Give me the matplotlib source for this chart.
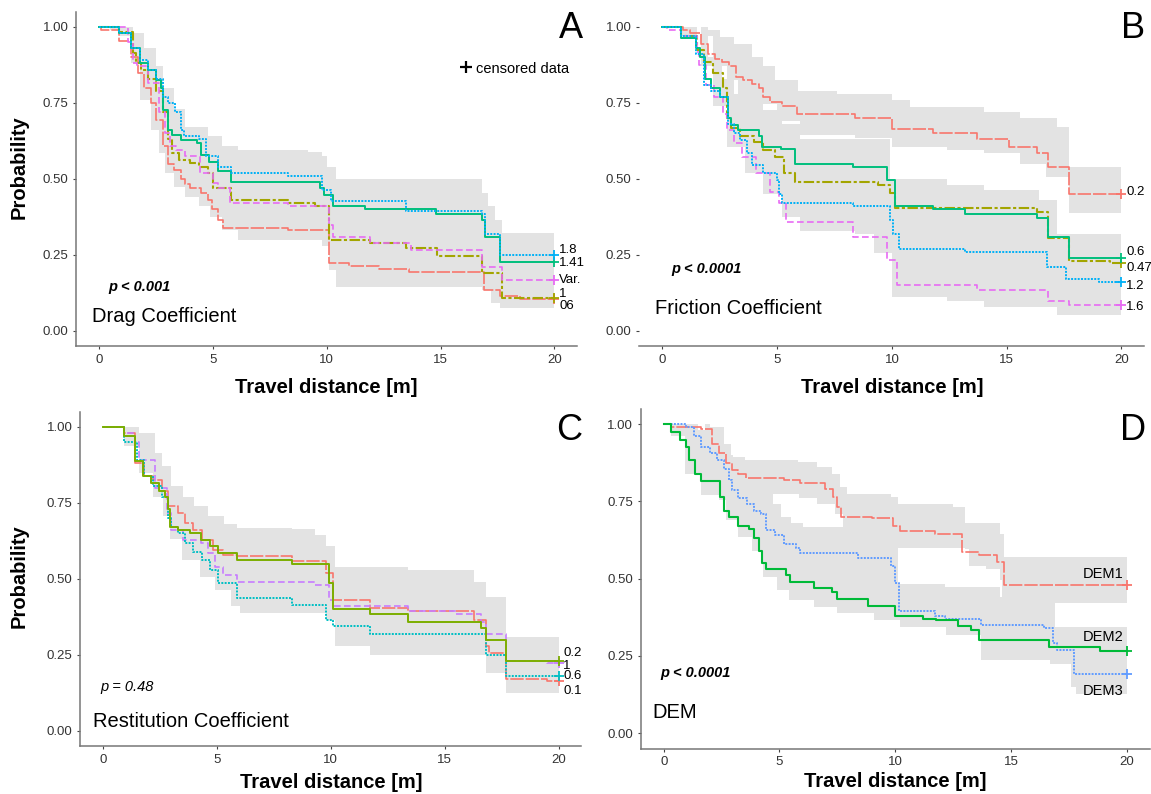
import matplotlib
matplotlib.use('Agg')
import matplotlib.pyplot as plt

plt.rcParams['font.family'] = ['Liberation Sans', 'DejaVu Sans']

# ---- Panel A : drag coefficient ----
a_06_x = [0, 0.1, 0.9, 1.4, 1.7, 2.0, 2.3, 2.5, 2.8, 3.05, 3.3, 3.6, 3.8, 4.0, 4.5, 4.8, 4.95, 5.25, 5.45, 8.3, 10.1, 11.0, 12.3, 13.6, 16.9, 17.6, 18.5, 20]
a_06_y = [1.0, 0.99, 0.955, 0.90, 0.85, 0.80, 0.75, 0.695, 0.61, 0.55, 0.53, 0.50, 0.485, 0.47, 0.455, 0.43, 0.40, 0.366, 0.338, 0.332, 0.225, 0.215, 0.205, 0.195, 0.135, 0.115, 0.105, 0.105]
a_1_x = [0, 0.9, 1.5, 1.65, 1.84, 2.16, 2.5, 2.8, 3.05, 3.2, 3.5, 4.0, 4.4, 4.8, 5.0, 5.8, 8.3, 9.5, 10.1, 11.9, 13.5, 14.85, 16.8, 17.7, 20]
a_1_y = [1.0, 0.985, 0.915, 0.88, 0.86, 0.83, 0.79, 0.72, 0.63, 0.585, 0.563, 0.552, 0.54, 0.52, 0.47, 0.43, 0.42, 0.41, 0.30, 0.29, 0.272, 0.245, 0.19, 0.11, 0.11]
a_var_x = [0, 1.3, 1.5, 1.67, 2.16, 2.65, 2.9, 3.14, 3.4, 3.8, 4.44, 5.0, 5.25, 5.75, 8.3, 10.1, 10.3, 11.9, 13.7, 16.8, 17.7, 20]
a_var_y = [1.0, 0.95, 0.88, 0.87, 0.816, 0.72, 0.65, 0.607, 0.596, 0.574, 0.52, 0.486, 0.47, 0.42, 0.41, 0.35, 0.31, 0.29, 0.265, 0.21, 0.168, 0.168]
a_141_x = [0, 0.9, 1.4, 1.8, 2.16, 2.5, 2.73, 2.8, 3.05, 3.2, 3.6, 4.3, 4.5, 4.85, 5.25, 5.8, 9.7, 9.9, 10.3, 11.7, 14.8, 16.8, 16.95, 17.6, 20]
a_141_y = [1.0, 0.98, 0.93, 0.88, 0.86, 0.827, 0.80, 0.728, 0.66, 0.645, 0.627, 0.617, 0.58, 0.557, 0.525, 0.49, 0.47, 0.448, 0.41, 0.40, 0.385, 0.365, 0.31, 0.228, 0.228]
a_18_x = [0, 0.9, 1.4, 1.8, 2.16, 2.5, 2.8, 3.05, 3.35, 3.6, 3.75, 4.4, 4.7, 5.25, 5.8, 8.3, 9.8, 10.2, 13.5, 16.8, 16.95, 17.6, 20]
a_18_y = [1.0, 0.98, 0.93, 0.89, 0.86, 0.83, 0.77, 0.75, 0.72, 0.66, 0.64, 0.63, 0.574, 0.54, 0.52, 0.51, 0.464, 0.426, 0.393, 0.385, 0.32, 0.25, 0.25]
a_band_up_x = [0, 1.3, 1.5, 2.0, 2.5, 2.8, 3.3, 3.8, 4.8, 5.4, 6.1, 9.2, 9.8, 10.0, 10.4, 16.5, 16.8, 17.1, 17.4, 17.7, 20]
a_band_up_y = [1.0, 1.0, 0.98, 0.93, 0.87, 0.80, 0.73, 0.67, 0.64, 0.607, 0.596, 0.59, 0.574, 0.54, 0.50, 0.50, 0.453, 0.41, 0.366, 0.322, 0.322]
a_band_lo_x = [0, 0.5, 0.9, 1.4, 1.8, 2.3, 2.65, 2.9, 3.3, 3.8, 4.4, 4.9, 5.4, 6.1, 9.8, 10.1, 10.4, 13.5, 16.8, 17.2, 17.6, 20]
a_band_lo_y = [1.0, 0.99, 0.97, 0.88, 0.76, 0.66, 0.585, 0.52, 0.475, 0.442, 0.41, 0.376, 0.333, 0.30, 0.278, 0.20, 0.146, 0.146, 0.135, 0.091, 0.075, 0.075]

# ---- Panel B : friction coefficient ----
b_02_x = [0, 0.9, 1.2, 1.7, 2.0, 2.3, 2.6, 2.9, 3.2, 3.5, 3.9, 4.2, 4.4, 4.7, 5.2, 5.86, 8.4, 10.0, 11.8, 13.7, 15.1, 16.3, 16.8, 17.7, 20]
b_02_y = [1.0, 0.99, 0.98, 0.945, 0.91, 0.896, 0.885, 0.87, 0.836, 0.826, 0.814, 0.80, 0.77, 0.753, 0.74, 0.715, 0.70, 0.665, 0.65, 0.63, 0.605, 0.585, 0.54, 0.452, 0.452]
b_06_x = [0, 0.8, 1.45, 1.65, 1.85, 2.1, 2.5, 2.85, 3.0, 3.3, 4.2, 4.35, 5.15, 5.8, 8.3, 9.8, 10.15, 11.8, 13.2, 16.3, 16.8, 17.7, 20]
b_06_y = [1.0, 0.965, 0.93, 0.90, 0.83, 0.80, 0.77, 0.70, 0.677, 0.66, 0.64, 0.605, 0.60, 0.55, 0.54, 0.496, 0.41, 0.40, 0.385, 0.37, 0.31, 0.24, 0.24]
b_047_x = [0, 0.8, 1.5, 1.8, 2.2, 2.65, 2.8, 3.0, 3.4, 4.0, 4.4, 4.9, 5.3, 5.8, 9.4, 9.9, 10.15, 16.3, 16.8, 17.7, 19.5, 20]
b_047_y = [1.0, 0.97, 0.923, 0.885, 0.847, 0.80, 0.70, 0.666, 0.64, 0.62, 0.595, 0.573, 0.518, 0.49, 0.48, 0.455, 0.405, 0.39, 0.305, 0.23, 0.225, 0.225]
b_12_x = [0, 0.8, 1.45, 1.8, 2.1, 2.5, 2.85, 3.1, 3.4, 3.7, 3.9, 4.4, 5.0, 5.1, 5.2, 8.3, 9.9, 10.05, 10.3, 13.2, 16.75, 17.6, 19.0, 20]
b_12_y = [1.0, 0.97, 0.91, 0.81, 0.79, 0.77, 0.68, 0.65, 0.627, 0.585, 0.545, 0.518, 0.496, 0.452, 0.42, 0.41, 0.365, 0.32, 0.27, 0.26, 0.21, 0.17, 0.16, 0.16]
b_16_x = [0, 0.2, 0.8, 1.5, 1.6, 1.9, 2.25, 2.65, 2.8, 3.1, 3.45, 4.1, 4.7, 5.1, 5.4, 8.3, 9.8, 10.2, 13.7, 16.8, 17.7, 20]
b_16_y = [1.0, 0.99, 0.97, 0.918, 0.875, 0.81, 0.77, 0.715, 0.66, 0.617, 0.573, 0.518, 0.458, 0.42, 0.36, 0.31, 0.233, 0.15, 0.135, 0.10, 0.085, 0.085]
b_band1_up_x = [0, 2.0, 2.5, 3.1, 3.9, 4.4, 4.9, 5.9, 7.6, 10.0, 10.8, 14.0, 15.6, 17.2, 17.7, 20]
b_band1_up_y = [1.0, 0.99, 0.967, 0.945, 0.90, 0.87, 0.825, 0.79, 0.78, 0.76, 0.737, 0.72, 0.70, 0.67, 0.54, 0.54]
b_band1_lo_x = [0, 1.7, 2.2, 2.8, 3.3, 3.9, 5.0, 6.0, 8.4, 10.0, 12.4, 14.0, 15.6, 16.7, 17.7, 20]
b_band1_lo_y = [1.0, 0.97, 0.87, 0.825, 0.78, 0.745, 0.69, 0.645, 0.635, 0.605, 0.595, 0.584, 0.55, 0.507, 0.387, 0.387]
b_band2_up_x = [0, 1.5, 2.0, 2.6, 3.1, 4.4, 5.2, 6.0, 9.9, 12.4, 14.0, 16.4, 17.2, 20]
b_band2_up_y = [1.0, 0.97, 0.90, 0.83, 0.78, 0.726, 0.68, 0.63, 0.50, 0.48, 0.463, 0.43, 0.32, 0.32]
b_band2_lo_x = [0, 0.8, 1.7, 2.2, 2.8, 3.6, 4.4, 5.2, 6.0, 8.4, 9.2, 10.0, 12.4, 14.0, 17.2, 20]
b_band2_lo_y = [1.0, 0.97, 0.87, 0.74, 0.605, 0.518, 0.452, 0.376, 0.33, 0.32, 0.255, 0.113, 0.10, 0.08, 0.053, 0.053]

# ---- Panel C : restitution coefficient ----
c_02_x = [0, 0.93, 1.4, 1.75, 2.1, 2.45, 2.7, 2.85, 2.95, 3.3, 3.8, 4.3, 4.7, 5.07, 5.9, 8.3, 9.9, 10.1, 11.7, 13.4, 16.6, 16.8, 17.7, 20]
c_02_y = [1.0, 0.97, 0.887, 0.838, 0.816, 0.79, 0.77, 0.73, 0.67, 0.66, 0.65, 0.627, 0.607, 0.585, 0.563, 0.55, 0.486, 0.40, 0.385, 0.36, 0.34, 0.30, 0.23, 0.23]
c_01_x = [0, 0.93, 1.4, 1.8, 2.2, 2.6, 2.85, 3.3, 3.6, 3.95, 4.35, 4.85, 5.25, 5.9, 8.3, 9.8, 10.1, 11.7, 13.4, 16.3, 16.8, 16.95, 17.7, 19.5, 20]
c_01_y = [1.0, 0.98, 0.88, 0.838, 0.827, 0.79, 0.74, 0.717, 0.684, 0.662, 0.627, 0.596, 0.58, 0.576, 0.56, 0.52, 0.43, 0.405, 0.395, 0.365, 0.28, 0.255, 0.17, 0.165, 0.165]
c_1_x = [0, 0.93, 1.4, 1.6, 2.3, 2.8, 3.0, 3.5, 4.3, 4.6, 4.9, 5.25, 5.9, 9.3, 9.9, 10.1, 13.4, 15.5, 16.6, 16.8, 17.7, 19.5, 20]
c_1_y = [1.0, 0.98, 0.95, 0.89, 0.80, 0.717, 0.66, 0.627, 0.617, 0.585, 0.54, 0.514, 0.49, 0.48, 0.43, 0.41, 0.395, 0.385, 0.36, 0.32, 0.23, 0.225, 0.225]
c_06_x = [0, 0.93, 1.5, 1.8, 2.2, 2.6, 2.85, 3.0, 3.3, 3.6, 3.95, 4.35, 4.7, 5.07, 5.9, 8.3, 9.8, 10.1, 11.7, 16.8, 17.7, 20]
c_06_y = [1.0, 0.95, 0.89, 0.838, 0.805, 0.77, 0.70, 0.67, 0.65, 0.617, 0.59, 0.563, 0.53, 0.486, 0.436, 0.415, 0.365, 0.344, 0.32, 0.25, 0.18, 0.18]
c_band_up_x = [0, 1.3, 1.6, 2.3, 2.6, 3.0, 3.5, 4.0, 4.6, 5.3, 5.9, 8.3, 9.3, 9.8, 10.2, 13.4, 16.3, 16.8, 17.7, 20]
c_band_up_y = [1.0, 1.0, 0.98, 0.914, 0.87, 0.805, 0.77, 0.74, 0.706, 0.68, 0.668, 0.665, 0.645, 0.607, 0.54, 0.53, 0.49, 0.44, 0.31, 0.31]
c_band_lo_x = [0, 0.9, 1.6, 2.2, 2.65, 2.95, 3.45, 4.25, 4.9, 5.6, 6.0, 8.3, 9.8, 10.2, 11.7, 16.6, 16.8, 17.7, 20]
c_band_lo_y = [1.0, 0.937, 0.85, 0.77, 0.706, 0.63, 0.563, 0.508, 0.464, 0.41, 0.387, 0.387, 0.365, 0.278, 0.25, 0.25, 0.19, 0.124, 0.124]

# ---- Panel D : DEM ----
d_1_x = [0, 0.33, 1.6, 2.1, 2.4, 2.7, 2.95, 3.2, 3.55, 5.2, 5.9, 6.95, 7.3, 7.5, 7.65, 9.0, 9.9, 10.2, 11.7, 12.9, 13.6, 14.4, 14.7, 20]
d_1_y = [1.0, 0.99, 0.985, 0.937, 0.905, 0.873, 0.85, 0.84, 0.827, 0.82, 0.81, 0.79, 0.765, 0.732, 0.70, 0.695, 0.67, 0.655, 0.645, 0.585, 0.575, 0.555, 0.48, 0.48]
d_2_x = [0, 0.33, 0.7, 0.96, 1.1, 1.35, 1.6, 2.45, 2.6, 2.8, 3.2, 3.7, 3.9, 4.1, 4.25, 4.4, 5.3, 5.45, 6.5, 7.27, 7.5, 8.84, 10.0, 11.2, 11.75, 12.7, 13.25, 13.6, 16.65, 18.85, 20]
d_2_y = [1.0, 0.975, 0.948, 0.927, 0.883, 0.84, 0.815, 0.765, 0.72, 0.70, 0.67, 0.66, 0.63, 0.59, 0.55, 0.53, 0.51, 0.49, 0.47, 0.455, 0.435, 0.41, 0.38, 0.37, 0.365, 0.345, 0.335, 0.30, 0.28, 0.265, 0.265]
d_3_x = [0, 0.95, 1.3, 1.6, 2.0, 2.3, 2.6, 2.8, 2.95, 3.2, 3.6, 3.9, 4.2, 4.4, 4.8, 5.2, 5.7, 5.9, 8.4, 9.8, 10.0, 10.15, 11.7, 12.15, 13.7, 16.4, 16.8, 17.0, 17.7, 20]
d_3_y = [1.0, 0.99, 0.96, 0.927, 0.905, 0.883, 0.856, 0.82, 0.786, 0.76, 0.743, 0.72, 0.708, 0.657, 0.64, 0.613, 0.60, 0.583, 0.567, 0.54, 0.485, 0.395, 0.38, 0.37, 0.35, 0.34, 0.29, 0.27, 0.19, 0.19]
d_band1_up_x = [0, 2.0, 2.6, 2.9, 3.5, 5.8, 6.6, 7.25, 7.6, 7.9, 9.8, 10.1, 12.5, 13.0, 14.5, 14.7, 20]
d_band1_up_y = [1.0, 0.99, 0.937, 0.894, 0.883, 0.878, 0.862, 0.84, 0.797, 0.775, 0.765, 0.743, 0.732, 0.68, 0.645, 0.57, 0.57]
d_band1_lo_x = [0, 1.8, 2.4, 2.7, 3.2, 4.35, 5.85, 6.6, 7.4, 7.75, 9.8, 10.1, 13.0, 13.2, 13.9, 14.5, 14.6, 14.7, 20]
d_band1_lo_y = [1.0, 0.94, 0.84, 0.797, 0.775, 0.773, 0.76, 0.743, 0.71, 0.667, 0.635, 0.60, 0.597, 0.54, 0.53, 0.495, 0.44, 0.42, 0.42]
d_band2_up_x = [0, 1.5, 2.0, 2.6, 3.0, 4.35, 4.7, 5.05, 5.5, 6.0, 7.75, 9.8, 10.1, 12.15, 14.5, 16.9, 20]
d_band2_up_y = [1.0, 0.98, 0.95, 0.90, 0.84, 0.773, 0.74, 0.70, 0.68, 0.667, 0.667, 0.635, 0.484, 0.473, 0.44, 0.343, 0.343]
d_band2_lo_x = [0, 0.3, 0.9, 1.6, 2.4, 2.7, 3.2, 3.8, 4.3, 4.9, 5.4, 6.5, 7.5, 9.1, 10.2, 12.2, 13.7, 16.7, 17.6, 17.8, 20]
d_band2_lo_y = [1.0, 0.96, 0.84, 0.77, 0.754, 0.69, 0.635, 0.59, 0.505, 0.462, 0.43, 0.408, 0.387, 0.365, 0.343, 0.316, 0.235, 0.225, 0.149, 0.127, 0.127]

RED = '#F8766D'
LONGDASH = (0, (8, 1.2))
DOTDASH = (0, (5, 1.2, 1.5, 1.2))
DOTTED = (0, (1, 0.7))
DASHED = (0, (4, 2))
BAND = '#e3e3e3'


def stairs(xs, ys):
    px, py = [], []
    for i in range(len(xs)):
        if i > 0:
            px.append(xs[i])
            py.append(ys[i - 1])
        px.append(xs[i])
        py.append(ys[i])
    return px, py


def band(ax, ux, uy, lx, ly):
    px, py = stairs(ux, uy)
    qx, qy = stairs(lx, ly)
    ax.fill(px + qx[::-1], py + qy[::-1], color=BAND, lw=0, zorder=0)


def curve(ax, xs, ys, color, ls, lw=1.2):
    ax.step(xs, ys, where='post', color=color, ls=ls, lw=lw, zorder=2)
    ax.plot(xs[-1], ys[-1], marker='+', ms=7, mew=1.3, color=color, zorder=3)


def setup(ax, letter, title, ptext, pbold, px, py, xpad, ylab=None, left_spine=True):
    ax.set_xlim(-1, 21)
    ax.set_ylim(-0.05, 1.05)
    ax.set_xticks([0, 5, 10, 15, 20])
    ax.set_yticks([0, 0.25, 0.5, 0.75, 1.0])
    ax.set_yticklabels(['0.00', '0.25', '0.50', '0.75', '1.00'])
    for s in ['top', 'right']:
        ax.spines[s].set_visible(False)
    ax.spines['left'].set_visible(left_spine)
    for s in ['left', 'bottom']:
        ax.spines[s].set_color('#777777')
        ax.spines[s].set_linewidth(1.1)
    ax.tick_params(length=2.5, width=0.8, color='#444444', labelsize=9.5,
                   labelcolor='#333333', pad=3)
    ax.set_xlabel('Travel distance [m]', fontsize=14.5, fontweight='bold', labelpad=xpad)
    if ylab is not None:
        ax.set_ylabel('Probability', fontsize=14.5, fontweight='bold')
        ax.yaxis.set_label_coords(ylab[0], ylab[1])
    ax.text(letter[1], letter[2], letter[0], fontsize=26, ha='right', va='center')
    ax.text(title[1], title[2], title[0], fontsize=14.5, ha='left', va='center')
    ax.text(px, py, ptext, fontsize=10.5, style='italic',
            fontweight='bold' if pbold else 'normal', ha='left', va='center')


fig = plt.figure(figsize=(11.51, 7.94), dpi=100)
ax_a = fig.add_axes([0.0661, 0.564, 0.4354, 0.4212])
ax_b = fig.add_axes([0.5555, 0.564, 0.4388, 0.4212])
ax_c = fig.add_axes([0.0697, 0.0602, 0.4354, 0.4212])
ax_d = fig.add_axes([0.5565, 0.0573, 0.4427, 0.428])

# A
band(ax_a, a_band_up_x, a_band_up_y, a_band_lo_x, a_band_lo_y)
curve(ax_a, a_06_x, a_06_y, RED, LONGDASH)
curve(ax_a, a_1_x, a_1_y, '#A3A500', DOTDASH, 1.5)
curve(ax_a, a_var_x, a_var_y, '#E76BF3', DASHED)
curve(ax_a, a_141_x, a_141_y, '#00BF7D', '-', 1.4)
curve(ax_a, a_18_x, a_18_y, '#00B0F6', DOTTED, 1.4)
setup(ax_a, ('A', 21.25, 0.995), ('Drag Coefficient', -0.3, 0.047), 'p < 0.001', True, 0.4, 0.144,
      9, ylab=(-0.094, 0.536))
for lab, yy in [('1.8', 0.267), ('1.41', 0.223), ('Var.', 0.168), ('1', 0.12), ('06', 0.082)]:
    ax_a.text(20.2, yy, lab, fontsize=9.5, ha='left', va='center')
ax_a.plot(16.1, 0.868, marker='+', ms=9, mew=1.6, color='black')
ax_a.text(16.55, 0.862, 'censored data', fontsize=10.5, ha='left', va='center')

# B
band(ax_b, b_band1_up_x, b_band1_up_y, b_band1_lo_x, b_band1_lo_y)
band(ax_b, b_band2_up_x, b_band2_up_y, b_band2_lo_x, b_band2_lo_y)
curve(ax_b, b_02_x, b_02_y, RED, LONGDASH)
curve(ax_b, b_047_x, b_047_y, '#A3A500', DOTDASH, 1.5)
curve(ax_b, b_16_x, b_16_y, '#E76BF3', DASHED)
curve(ax_b, b_06_x, b_06_y, '#00BF7D', '-', 1.4)
curve(ax_b, b_12_x, b_12_y, '#00B0F6', DOTTED, 1.4)
setup(ax_b, ('B', 21.03, 0.995), ('Friction Coefficient', -0.3, 0.074), 'p < 0.0001', True, 0.4, 0.203,
      9, left_spine=False)
for lab, yy in [('0.2', 0.456), ('0.6', 0.26), ('0.47', 0.208), ('1.2', 0.148), ('1.6', 0.08)]:
    ax_b.text(20.2, yy, lab, fontsize=9.5, ha='left', va='center')

# C
band(ax_c, c_band_up_x, c_band_up_y, c_band_lo_x, c_band_lo_y)
curve(ax_c, c_01_x, c_01_y, RED, LONGDASH)
curve(ax_c, c_1_x, c_1_y, '#C77CFF', DASHED)
curve(ax_c, c_06_x, c_06_y, '#00BFC4', DOTTED, 1.4)
curve(ax_c, c_02_x, c_02_y, '#7CAE00', '-', 1.4)
setup(ax_c, ('C', 21.03, 0.988), ('Restitution Coefficient', -0.45, 0.031), 'p = 0.48', False, -0.1, 0.144,
      5, ylab=(-0.102, 0.509))
for lab, yy in [('0.2', 0.256), ('1', 0.215), ('0.6', 0.18), ('0.1', 0.133)]:
    ax_c.text(20.2, yy, lab, fontsize=9.5, ha='left', va='center')

# D
band(ax_d, d_band1_up_x, d_band1_up_y, d_band1_lo_x, d_band1_lo_y)
band(ax_d, d_band2_up_x, d_band2_up_y, d_band2_lo_x, d_band2_lo_y)
curve(ax_d, d_1_x, d_1_y, RED, LONGDASH)
curve(ax_d, d_3_x, d_3_y, '#619CFF', DOTTED, 1.4)
curve(ax_d, d_2_x, d_2_y, '#00BA38', '-', 1.5)
setup(ax_d, ('D', 20.85, 0.979), ('DEM', -0.5, 0.068), 'p < 0.0001', True, -0.15, 0.194, 2.5)
for lab, yy in [('DEM1', 0.514), ('DEM2', 0.311), ('DEM3', 0.135)]:
    ax_d.text(19.85, yy, lab, fontsize=10.5, ha='right', va='center')

fig.savefig('out.png', dpi=100)
